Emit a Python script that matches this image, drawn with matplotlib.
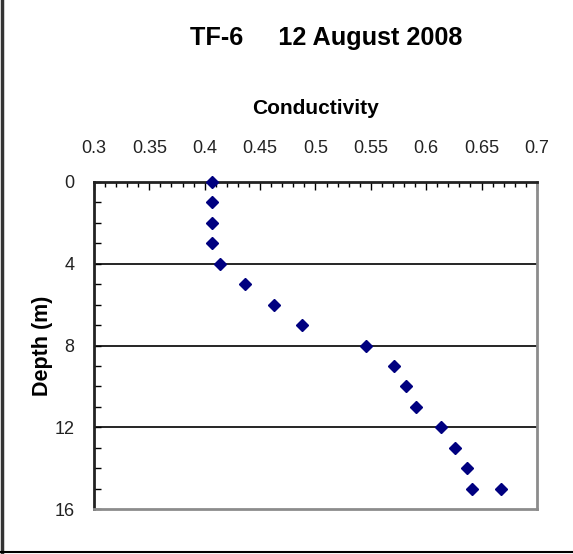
import matplotlib
matplotlib.use('Agg')
import matplotlib.pyplot as plt
from matplotlib.lines import Line2D
from matplotlib.ticker import MultipleLocator

plt.rcParams['font.family'] = ['Liberation Sans', 'DejaVu Sans']

# depth (m) and conductivity
depth = [0, 1, 2, 3, 4, 5, 6, 7, 8, 9, 10, 11, 12, 13, 14, 15, 15]
conductivity = [0.4065, 0.4065, 0.4065, 0.4065, 0.4135, 0.436, 0.463, 0.488,
                0.546, 0.571, 0.582, 0.591, 0.613, 0.626, 0.637, 0.641, 0.668]
x_ticks = [0.3, 0.35, 0.4, 0.45, 0.5, 0.55, 0.6, 0.65, 0.7]
x_labels = ['0.3', '0.35', '0.4', '0.45', '0.5', '0.55', '0.6', '0.65', '0.7']
y_ticks = [0, 4, 8, 12, 16]

fig = plt.figure(figsize=(5.73, 5.54), dpi=100)
ax = fig.add_axes([0.164, 0.0812, 0.773, 0.5903])

ax.plot(conductivity, depth, linestyle='none', marker='D', ms=6.2,
        color='#000080', zorder=5, clip_on=False)

ax.set_xlim(0.3, 0.7)
ax.set_ylim(16, 0)
ax.xaxis.tick_top()
ax.xaxis.set_label_position('top')
ax.set_xticks(x_ticks)
ax.set_xticklabels(x_labels)
ax.xaxis.set_minor_locator(MultipleLocator(0.01))
ax.set_yticks(y_ticks)
ax.yaxis.set_minor_locator(MultipleLocator(1))

ax.tick_params(axis='x', which='major', direction='in', length=6, width=1,
               labelsize=13, pad=18, top=True, bottom=False,
               labelcolor='#222222')
ax.tick_params(axis='x', which='minor', direction='in', length=3.5, width=1,
               top=True, bottom=False)
ax.tick_params(axis='y', which='major', direction='in', length=5, width=1,
               labelsize=13, pad=14, labelcolor='#222222')
ax.tick_params(axis='y', which='minor', direction='in', length=5, width=1)

for d in y_ticks[1:-1]:
    ax.axhline(d, color='black', lw=1.2, zorder=2)

ax.spines['top'].set_color('#222222')
ax.spines['left'].set_color('#222222')
ax.spines['top'].set_linewidth(2)
ax.spines['left'].set_linewidth(2)
ax.spines['right'].set_color('#8c8c8c')
ax.spines['bottom'].set_color('#8c8c8c')
ax.spines['right'].set_linewidth(2)
ax.spines['bottom'].set_linewidth(2)

ax.set_xlabel('Conductivity', fontsize=15, fontweight='bold', labelpad=19)
ax.set_ylabel('Depth (m)', fontsize=15.5, fontweight='bold', labelpad=1)

fig.text(0.569, 0.932, 'TF-6     12 August 2008', fontsize=18.2,
         fontweight='bold', ha='center', va='center')

# outer frame
fig.add_artist(Line2D([0.003, 0.003], [0, 1], color='#333333', lw=2.5,
                      transform=fig.transFigure))
fig.add_artist(Line2D([0, 1], [0.003, 0.003], color='black', lw=1.5,
                      transform=fig.transFigure))

fig.savefig('out.png', dpi=100)
